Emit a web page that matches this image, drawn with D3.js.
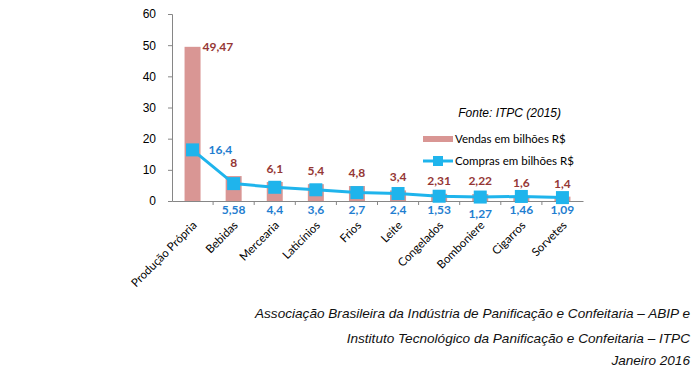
<!DOCTYPE html>
<html>
<head>
<meta charset="utf-8">
<script src="https://cdn.jsdelivr.net/npm/d3@7"></script>
<style>
  body { margin: 0; background: #fff; }
  svg { display: block; font-family: "Lato", "Open Sans", sans-serif; }
  .foot { font-family: "Liberation Sans", Arial, sans-serif; font-style: italic; font-size: 13.6px; fill: #111; }
</style>
</head>
<body>
<svg width="699" height="385"></svg>
<script>
// dados
var categorias = ["Produção Própria", "Bebidas", "Mercearia", "Laticínios", "Frios", "Leite", "Congelados", "Bomboniere", "Cigarros", "Sorvetes"];
var vendas = [49.47, 8, 6.1, 5.4, 4.8, 3.4, 2.31, 2.22, 1.6, 1.4];
var compras = [16.4, 5.58, 4.4, 3.6, 2.7, 2.4, 1.53, 1.27, 1.46, 1.09];
var yTicks = [0, 10, 20, 30, 40, 50, 60];
var rodape = [
    "Associação Brasileira da Indústria de Panificação e Confeitaria – ABIP e",
    "Instituto Tecnológico da Panificação e Confeitaria – ITPC",
    "Janeiro 2016"
];

var svg = d3.select("svg");
var corBarra = "#D99694", corLinha = "#1FB4EC", corTxtV = "#953735", corTxtC = "#1F7ED0";

var x = d3.scaleBand().domain(categorias).range([172, 583]);
var y = d3.scaleLinear().domain([0, 60]).range([201, 14]);
var fmt = function (v) { return String(v).replace(".", ","); };

// eixo y
var gy = svg.append("g").attr("transform", "translate(172,0)")
    .call(d3.axisLeft(y).tickValues(yTicks).tickSize(4).tickPadding(12));
gy.selectAll("text").style("font-size", "12px").attr("fill", "#000");

// barras
svg.selectAll("rect.v")
    .data(vendas)
    .enter()
    .append("rect")
    .attr("class", "v")
    .attr("x", function (d, i) { return x(categorias[i]) + x.bandwidth() / 2 - 8; })
    .attr("y", function (d) { return y(d); })
    .attr("width", 16)
    .attr("height", function (d) { return y(0) - y(d); })
    .attr("fill", corBarra);

// eixo x
var gx = svg.append("g").attr("transform", "translate(0,201)")
    .call(d3.axisBottom(x).tickSize(0).tickFormat(""));
gx.selectAll(".tick").remove();
gx.selectAll("line.sep")
    .data(categorias.slice(1))
    .enter()
    .append("line")
    .attr("x1", function (d) { return x(d); })
    .attr("x2", function (d) { return x(d); })
    .attr("y1", 0).attr("y2", 4)
    .attr("stroke", "#000");
[gx, gy].forEach(function (g) {
    g.select(".domain").attr("stroke", "#868686");
    g.selectAll("line").attr("stroke", "#868686");
});

// rótulos categorias
svg.selectAll("text.cat")
    .data(categorias)
    .enter()
    .append("text")
    .attr("class", "cat")
    .attr("transform", function (d) {
        return "translate(" + (x(d) + x.bandwidth() / 2 + 5) + ",226) rotate(-45)";
    })
    .attr("text-anchor", "end")
    .style("font-size", "11.5px")
    .attr("fill", "#000")
    .text(function (d) { return d; });

// linha compras
var cx = function (d, i) { return x(categorias[i]) + x.bandwidth() / 2; };
var linha = d3.line().x(cx).y(function (d) { return y(d); });
svg.append("path")
    .datum(compras)
    .attr("d", linha)
    .attr("fill", "none")
    .attr("stroke", corLinha)
    .attr("stroke-width", 3);
svg.selectAll("rect.c")
    .data(compras)
    .enter()
    .append("rect")
    .attr("class", "c")
    .attr("x", function (d, i) { return cx(d, i) - 6.5; })
    .attr("y", function (d) { return y(d) - 6.5; })
    .attr("width", 13).attr("height", 13)
    .attr("fill", corLinha);

// rótulos valores vendas
svg.selectAll("text.lv")
    .data(vendas)
    .enter()
    .append("text")
    .attr("class", "lv")
    .attr("x", function (d, i) { return i == 0 ? cx(d, i) + 10 : cx(d, i); })
    .attr("y", function (d, i) { return i == 0 ? y(d) + 4 : y(d) - 9; })
    .attr("text-anchor", function (d, i) { return i == 0 ? "start" : "middle"; })
    .style("font-size", "12px").style("font-weight", "bold")
    .attr("fill", corTxtV)
    .text(fmt);

// rótulos valores compras
svg.selectAll("text.lc")
    .data(compras)
    .enter()
    .append("text")
    .attr("class", "lc")
    .attr("x", function (d, i) { return i == 0 ? cx(d, i) + 16 : cx(d, i); })
    .attr("y", function (d, i) { return i == 0 ? y(d) + 4 : (i == 7 ? 218 : 214); })
    .attr("text-anchor", function (d, i) { return i == 0 ? "start" : "middle"; })
    .style("font-size", "12px").style("font-weight", "bold")
    .attr("fill", corTxtC)
    .text(fmt);

// legenda
svg.append("text").attr("x", 561).attr("y", 117).attr("text-anchor", "end")
    .style("font-family", "'Liberation Sans', Arial, sans-serif")
    .style("font-size", "12px").style("font-style", "italic").text("Fonte: ITPC (2015)");
svg.append("rect").attr("x", 423).attr("y", 136).attr("width", 30).attr("height", 6).attr("fill", corBarra);
svg.append("text").attr("x", 455).attr("y", 143).style("font-size", "11.5px").text("Vendas em bilhões R$");
svg.append("line").attr("x1", 423).attr("x2", 453).attr("y1", 161).attr("y2", 161)
    .attr("stroke", corLinha).attr("stroke-width", 3);
svg.append("rect").attr("x", 433).attr("y", 156).attr("width", 10).attr("height", 10).attr("fill", corLinha);
svg.append("text").attr("x", 455).attr("y", 165).style("font-size", "11.5px").text("Compras em bilhões R$");

// rodapé
svg.selectAll("text.foot")
    .data(rodape)
    .enter()
    .append("text")
    .attr("class", "foot")
    .attr("x", 690)
    .attr("y", function (d, i) { return [318, 343, 365][i]; })
    .attr("text-anchor", "end")
    .text(function (d) { return d; });
</script>
</body>
</html>
